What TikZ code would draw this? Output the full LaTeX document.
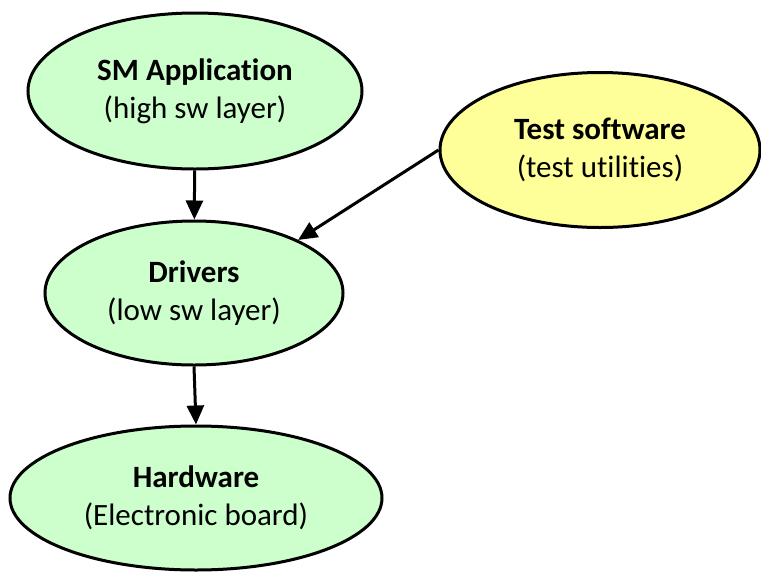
\documentclass[tikz,border=0pt]{standalone}
\usepackage{fontspec}
\setmainfont[Ligatures=NoCommon]{Carlito}
\usetikzlibrary{shapes.geometric,arrows.meta}
\definecolor{layergreen}{HTML}{CCFFCC}
\definecolor{testyellow}{HTML}{FFFF99}

\begin{document}
\begin{tikzpicture}[x=1pt,y=-1pt,
  layer/.style={ellipse,draw,line width=3pt,inner sep=0pt,align=center,
    font=\fontsize{31}{38}\selectfont},
  link/.style={line width=3pt,-{Triangle[length=19pt,width=17pt]}}]
\useasboundingbox (0,0) rectangle (761,571);
\node[layer,fill=layergreen,minimum width=334pt,minimum height=156pt] (app) at (195,91)
  {\textbf{SM Application}\\(high sw layer)};
\node[layer,fill=testyellow,minimum width=320pt,minimum height=155pt] (test) at (600,150)
  {\textbf{Test software}\\(test utilities)};
\node[layer,fill=layergreen,minimum width=298pt,minimum height=144pt] (drv) at (194,293)
  {\textbf{Drivers}\\(low sw layer)};
\node[layer,fill=layergreen,minimum width=372pt,minimum height=144pt] (hw) at (196,498)
  {\textbf{Hardware}\\(Electronic board)};
\draw[link] (app) -- (drv);
\draw[link] (test.west) -- (drv.27);
\draw[link] (drv.south) -- (hw.north);
\end{tikzpicture}
\end{document}
